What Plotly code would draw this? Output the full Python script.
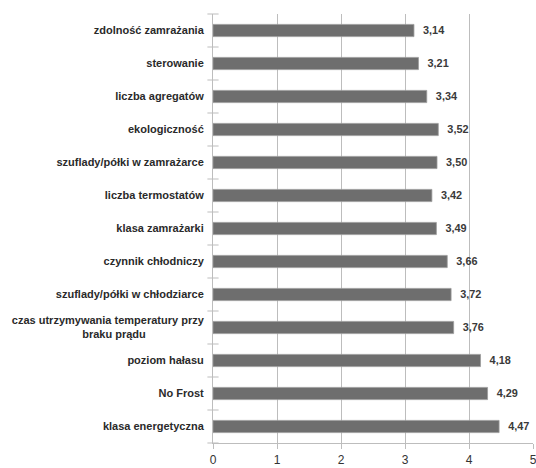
import plotly.graph_objects as go

categories = [
    "klasa energetyczna",
    "No Frost",
    "poziom hałasu",
    "czas utrzymywania temperatury przy<br>braku prądu",
    "szuflady/półki w chłodziarce",
    "czynnik chłodniczy",
    "klasa zamrażarki",
    "liczba termostatów",
    "szuflady/półki w zamrażarce",
    "ekologiczność",
    "liczba agregatów",
    "sterowanie",
    "zdolność zamrażania",
]
values = [4.47, 4.29, 4.18, 3.76, 3.72, 3.66, 3.49, 3.42, 3.50, 3.52, 3.34, 3.21, 3.14]
x_ticks = [0, 1, 2, 3, 4, 5]

tick_text = [c if "<br>" not in c else c + "\u00a0" * 19 for c in categories]

fig = go.Figure(go.Bar(
    y=list(range(len(categories))),
    x=values,
    orientation="h",
    marker=dict(color="#6e6e6e", line=dict(color="#9a9a9a", width=0.8)),
    text=["\u00a0\u00a0" + f"{v:.2f}".replace(".", ",") for v in values],
    textposition="outside",
    textfont=dict(family="Liberation Sans", size=12.5, color="#3a3a3a", weight="bold"),
    cliponaxis=False,
    width=0.37,
))

fig.update_layout(
    width=536, height=468,
    margin=dict(l=213, r=3, t=14, b=25),
    paper_bgcolor="white", plot_bgcolor="white",
    showlegend=False,
    font=dict(family="Liberation Sans", color="#333333"),
)
fig.update_xaxes(
    range=[0, 5], tickvals=x_ticks, ticktext=[str(t) for t in x_ticks],
    showgrid=True, gridcolor="#bdbdbd", gridwidth=1,
    showline=True, linecolor="#bdbdbd", linewidth=1,
    ticks="outside", ticklen=5, tickcolor="#bdbdbd",
    tickfont=dict(size=12, color="#333333"), zeroline=False,
    ticklabeloverflow="allow", automargin=False, ticklabelstandoff=1,
)
fig.update_yaxes(
    range=[-0.5, len(categories) - 0.5],
    tickvals=list(range(len(categories))), ticktext=tick_text,
    showline=True, linecolor="#bdbdbd", linewidth=1,
    ticks="", showgrid=False,
    tickfont=dict(size=11, color="#2a2a2a", weight="bold"),
    ticklabelstandoff=6, automargin=False,
)
# boundary tick marks between categories on the category axis
fig.add_trace(go.Scatter(
    x=[0] * (len(categories) + 1), y=[i - 0.5 for i in range(len(categories) + 1)],
    mode="markers", marker=dict(symbol="line-ew", size=8, line=dict(color="#bdbdbd", width=1)),
    hoverinfo="skip", cliponaxis=False,
))

fig.write_html("out.html")
